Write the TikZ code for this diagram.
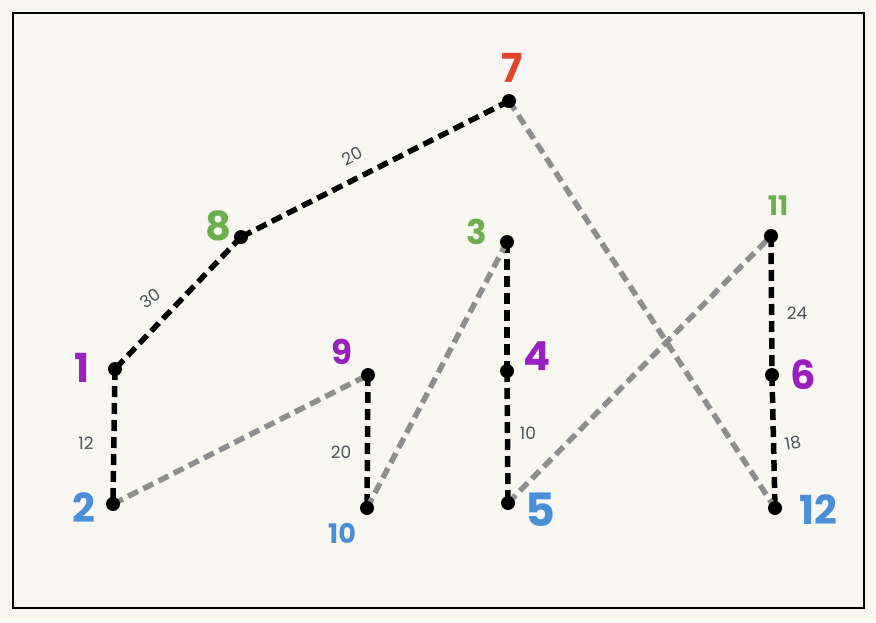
\documentclass[tikz,border=0pt]{standalone}
\usepackage{fontspec}
\setmainfont{Poppins}
\usepackage{xcolor}
\usepackage{tikz}
\usetikzlibrary{positioning, backgrounds}
\definecolor{paper}{HTML}{F8F7F2}
\definecolor{rootred}{HTML}{E0442C}
\definecolor{leafgreen}{HTML}{6AB04C}
\definecolor{midpurple}{HTML}{9A1FBF}
\definecolor{lowblue}{HTML}{4A90D9}
\definecolor{weightgray}{HTML}{4B555A}
\definecolor{linkgray}{HTML}{8E8E8E}
\tikzstyle{dot} = [circle, fill=black, minimum size=14pt, inner sep=0pt]
\tikzstyle{tree} = [line width=5.5pt, dash pattern=on 11pt off 6pt, black]
\tikzstyle{link} = [line width=5.5pt, dash pattern=on 11pt off 6pt, linkgray]
\tikzstyle{num} = [font=\fontsize{40}{40}\selectfont\bfseries, inner sep=0pt]
\tikzstyle{small} = [font=\fontsize{27}{27}\selectfont\bfseries, inner sep=0pt]
\tikzstyle{weight} = [font=\fontsize{17}{17}\selectfont, text=weightgray, inner sep=0pt]

\begin{document}
\begin{tikzpicture}[x=1pt, y=-1pt]
  % Dots
  \node[dot] (n7) at (509,101) {};
  \node[dot] (n8) at (241,237) {};
  \node[dot] (n1) at (115,369) {};
  \node[dot] (n2) at (113,504) {};
  \node[dot] (n9) at (368,375) {};
  \node[dot] (n10) at (367,508) {};
  \node[dot] (n3) at (507,242) {};
  \node[dot] (n4) at (507,371) {};
  \node[dot] (n5) at (508,503) {};
  \node[dot] (n11) at (771,236) {};
  \node[dot] (n6) at (772,375) {};
  \node[dot] (n12) at (775,508) {};
  % Numbers
  \node[num, text=rootred] (l7) at (512,68) {7};
  \node[num, text=leafgreen] (l8) at (218,226) {8};
  \node[num, text=leafgreen, font=\fontsize{34}{34}\selectfont\bfseries] (l3) at (477,232) {3};
  \node[small, text=leafgreen] (l11) at (778,206) {11};
  \node[num, text=midpurple] (l1) at (82,368) {1};
  \node[num, text=midpurple, font=\fontsize{34}{34}\selectfont\bfseries] (l9) at (342,352) {9};
  \node[num, text=midpurple] (l4) at (537,356) {4};
  \node[num, text=midpurple] (l6) at (803,375) {6};
  \node[num, text=lowblue] (l2) at (84,508) {2};
  \node[small, text=lowblue] (l10) at (342,533) {10};
  \node[num, text=lowblue, font=\fontsize{46}{46}\selectfont\bfseries] (l5) at (540,510) {5};
  \node[num, text=lowblue] (l12) at (818,510) {12};
  % Weights
  \node[weight, rotate=27] (w78) at (352,156) {20};
  \node[weight, rotate=35] (w81) at (150,298) {30};
  \node[weight] (w12) at (86,443) {12};
  \node[weight] (w910) at (341,452) {20};
  \node[weight] (w45) at (528,433) {10};
  \node[weight] (w116) at (797,313) {24};
  \node[weight, rotate=10] (w612) at (793,443) {18};
  % Connectors, paper and frame underneath
  \begin{scope}[on background layer]
    \fill[paper] (0,0) rectangle (876,622);
    \draw[line width=2.6pt] (13,13) rectangle (864,608);
    \draw[tree] (n7.center) -- (n8.center);
    \draw[tree] (n8.center) -- (n1.center);
    \draw[tree] (n1.center) -- (n2.center);
    \draw[tree] (n9.center) -- (n10.center);
    \draw[tree] (n3.center) -- (n4.center);
    \draw[tree] (n4.center) -- (n5.center);
    \draw[tree] (n11.center) -- (n6.center);
    \draw[tree] (n6.center) -- (n12.center);
    \draw[link] (n2.center) -- (n9.center);
    \draw[link] (n10.center) -- (n3.center);
    \draw[link] (n5.center) -- (n11.center);
    \draw[link] (n7.center) -- (n12.center);
  \end{scope}
\end{tikzpicture}
\end{document}
